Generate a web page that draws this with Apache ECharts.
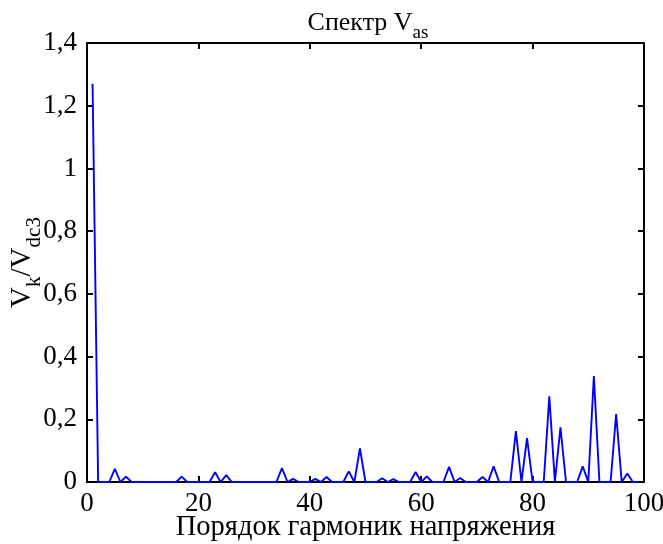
<!DOCTYPE html>
<html>
<head>
<meta charset="utf-8">
<script src="https://cdn.jsdelivr.net/npm/echarts@6/dist/echarts.min.js"></script>
<style>
  html, body { margin: 0; padding: 0; background: #fff; }
  #chart { width: 663px; height: 544px; }
</style>
</head>
<body>
<div id="chart"></div>
<script>
// Harmonic order k and normalised amplitude Vk/Vdc3 of the phase voltage spectrum
const harmonicOrder = [
  1, 2, 3, 4, 5, 6, 7, 8, 9, 10, 11, 12, 13, 14, 15, 16, 17, 18, 19, 20,
  21, 22, 23, 24, 25, 26, 27, 28, 29, 30, 31, 32, 33, 34, 35, 36, 37, 38, 39, 40,
  41, 42, 43, 44, 45, 46, 47, 48, 49, 50, 51, 52, 53, 54, 55, 56, 57, 58, 59, 60,
  61, 62, 63, 64, 65, 66, 67, 68, 69, 70, 71, 72, 73, 74, 75, 76, 77, 78, 79, 80,
  81, 82, 83, 84, 85, 86, 87, 88, 89, 90, 91, 92, 93, 94, 95, 96, 97, 98, 99
];
const amplitude = [
  1.27, 0, 0, 0, 0.042, 0, 0.017, 0, 0, 0, 0, 0, 0, 0, 0, 0, 0.017, 0, 0, 0,
  0, 0, 0.031, 0, 0.022, 0, 0, 0, 0, 0, 0, 0, 0, 0, 0.044, 0, 0.010, 0, 0, 0,
  0.010, 0, 0.016, 0, 0, 0, 0.034, 0, 0.107, 0, 0, 0, 0.012, 0, 0.009, 0, 0, 0, 0.032, 0,
  0.018, 0, 0, 0, 0.048, 0, 0.013, 0, 0, 0, 0.016, 0, 0.050, 0, 0, 0, 0.162, 0, 0.140, 0,
  0, 0, 0.273, 0, 0.174, 0, 0, 0, 0.050, 0, 0.338, 0, 0, 0, 0.217, 0, 0.027, 0, 0
];
const xTicks = [0, 20, 40, 60, 80, 100];
const yTicks = [0, 0.2, 0.4, 0.6, 0.8, 1, 1.2, 1.4];

const serif = '"Liberation Serif", "Times New Roman", serif';
const seriesData = harmonicOrder.map((k, i) => [k, amplitude[i]]);
const fmtY = v => String(Math.round(v * 10) / 10).replace('.', ',');

const frameLine = { show: true, onZero: false, lineStyle: { color: '#000', width: 2 } };
const innerTicks = { show: true, inside: true, length: 6, lineStyle: { color: '#000', width: 2 } };

const chart = echarts.init(document.getElementById('chart'), null, { renderer: 'canvas' });
chart.setOption({
  backgroundColor: '#fff',
  animation: false,
  title: {
    text: '{m|Спектр V}{s|as}',
    left: 363, top: 5, textAlign: 'center',
    textStyle: {
      rich: {
        m: { fontFamily: serif, fontSize: 26, fontWeight: 'normal', color: '#000', padding: [0, 0, 7, 0], verticalAlign: 'bottom' },
        s: { fontFamily: serif, fontSize: 19, fontWeight: 'normal', color: '#000', verticalAlign: 'bottom' }
      }
    }
  },
  grid: { left: 87, right: 19, top: 43, bottom: 62, containLabel: false, outerBoundsMode: 'none' },
  xAxis: [{
    type: 'value', min: xTicks[0], max: xTicks[xTicks.length - 1], interval: 20,
    axisLine: frameLine, axisTick: innerTicks, splitLine: { show: false },
    axisLabel: { fontFamily: serif, fontSize: 27, color: '#000', margin: 8 },
    name: 'Порядок гармоник напряжения', nameLocation: 'middle', nameGap: 31, nameMoveOverlap: false,
    nameTextStyle: { fontFamily: serif, fontSize: 28.5, color: '#000' }
  }, {
    type: 'value', position: 'top', min: xTicks[0], max: xTicks[xTicks.length - 1], interval: 20,
    axisLine: frameLine, axisTick: innerTicks, axisLabel: { show: false }, splitLine: { show: false }
  }],
  yAxis: [{
    type: 'value', min: yTicks[0], max: yTicks[yTicks.length - 1], interval: 0.2,
    axisLine: frameLine, axisTick: innerTicks, splitLine: { show: false },
    axisLabel: { fontFamily: serif, fontSize: 27, color: '#000', margin: 10, formatter: fmtY },
    name: '{m|V}{s|k}{m|/V}{s|dc3}', nameLocation: 'middle', nameGap: 42, nameRotate: 90, nameMoveOverlap: false,
    nameTextStyle: {
      rich: {
        m: { fontFamily: serif, fontSize: 29, color: '#000', padding: [0, 0, 8, 0], verticalAlign: 'bottom' },
        s: { fontFamily: serif, fontSize: 21, color: '#000', verticalAlign: 'bottom' }
      }
    }
  }, {
    type: 'value', position: 'right', min: yTicks[0], max: yTicks[yTicks.length - 1], interval: 0.2,
    axisLine: frameLine, axisTick: innerTicks, axisLabel: { show: false }, splitLine: { show: false }
  }],
  series: [{
    type: 'line', data: seriesData, xAxisIndex: 0, yAxisIndex: 0,
    showSymbol: false, symbol: 'none',
    lineStyle: { color: '#0000ff', width: 1.9 },
    z: 1
  }]
});
</script>
</body>
</html>
